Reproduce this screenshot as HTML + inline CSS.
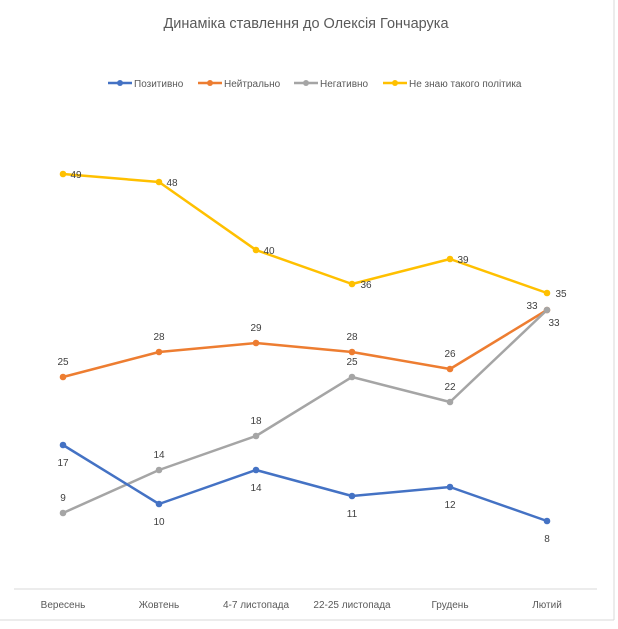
<!DOCTYPE html>
<html><head><meta charset="utf-8"><style>
body{margin:0;background:#fff;}
svg{display:block;font-family:"Liberation Sans","DejaVu Sans",sans-serif;}
</style></head><body>
<svg width="618" height="629" viewBox="0 0 618 629">
<rect x="0" y="0" width="618" height="629" fill="#fff"/>
<line x1="614" y1="0" x2="614" y2="620" stroke="#d9d9d9"/>
<line x1="0" y1="620" x2="614" y2="620" stroke="#d9d9d9"/>
<text x="306" y="28" text-anchor="middle" font-size="14.5" fill="#595959">Динаміка ставлення до Олексія  Гончарука</text>
<g font-size="10" fill="#595959">
<line x1="108" y1="83" x2="132" y2="83" stroke="#4472c4" stroke-width="2.5"/><circle cx="120" cy="83" r="3" fill="#4472c4"/><text x="134" y="87">Позитивно</text>
<line x1="198" y1="83" x2="222" y2="83" stroke="#ed7d31" stroke-width="2.5"/><circle cx="210" cy="83" r="3" fill="#ed7d31"/><text x="224" y="87">Нейтрально</text>
<line x1="294" y1="83" x2="318" y2="83" stroke="#a5a5a5" stroke-width="2.5"/><circle cx="306" cy="83" r="3" fill="#a5a5a5"/><text x="320" y="87">Негативно</text>
<line x1="383" y1="83" x2="407" y2="83" stroke="#ffc000" stroke-width="2.5"/><circle cx="395" cy="83" r="3" fill="#ffc000"/><text x="409" y="87">Не знаю такого політика</text>
</g>
<line x1="14" y1="589" x2="597" y2="589" stroke="#d9d9d9"/>
<g font-size="10" fill="#595959" text-anchor="middle">
<text x="63" y="608">Вересень</text><text x="159" y="608">Жовтень</text><text x="256" y="608">4-7 листопада</text><text x="352" y="608">22-25 листопада</text><text x="450" y="608">Грудень</text><text x="547" y="608">Лютий</text>
</g>
<g fill="none" stroke-width="2.5" stroke-linejoin="round">
<polyline stroke="#ffc000" points="63,174 159,182 256,250 352,284 450,259 547,293"/>
<polyline stroke="#ed7d31" points="63,377 159,352 256,343 352,352 450,369 547,310"/>
<polyline stroke="#a5a5a5" points="63,513 159,470 256,436 352,377 450,402 547,310"/>
<polyline stroke="#4472c4" points="63,445 159,504 256,470 352,496 450,487 547,521"/>
</g>
<g fill="#ffc000"><circle cx="63" cy="174" r="3.3"/><circle cx="159" cy="182" r="3.3"/><circle cx="256" cy="250" r="3.3"/><circle cx="352" cy="284" r="3.3"/><circle cx="450" cy="259" r="3.3"/><circle cx="547" cy="293" r="3.3"/></g>
<g fill="#ed7d31"><circle cx="63" cy="377" r="3.3"/><circle cx="159" cy="352" r="3.3"/><circle cx="256" cy="343" r="3.3"/><circle cx="352" cy="352" r="3.3"/><circle cx="450" cy="369" r="3.3"/><circle cx="547" cy="310" r="3.3"/></g>
<g fill="#a5a5a5"><circle cx="63" cy="513" r="3.3"/><circle cx="159" cy="470" r="3.3"/><circle cx="256" cy="436" r="3.3"/><circle cx="352" cy="377" r="3.3"/><circle cx="450" cy="402" r="3.3"/><circle cx="547" cy="310" r="3.3"/></g>
<g fill="#4472c4"><circle cx="63" cy="445" r="3.3"/><circle cx="159" cy="504" r="3.3"/><circle cx="256" cy="470" r="3.3"/><circle cx="352" cy="496" r="3.3"/><circle cx="450" cy="487" r="3.3"/><circle cx="547" cy="521" r="3.3"/></g>
<g font-size="10" fill="#404040" text-anchor="middle">
<text x="76" y="178">49</text><text x="172" y="186">48</text><text x="269" y="254">40</text><text x="366" y="288">36</text><text x="463" y="263">39</text><text x="561" y="297">35</text>
<text x="63" y="365">25</text><text x="159" y="340">28</text><text x="256" y="331">29</text><text x="352" y="340">28</text><text x="450" y="357">26</text><text x="532" y="309">33</text>
<text x="63" y="501">9</text><text x="159" y="458">14</text><text x="256" y="424">18</text><text x="352" y="365">25</text><text x="450" y="390">22</text><text x="554" y="326">33</text>
<text x="63" y="466">17</text><text x="159" y="525">10</text><text x="256" y="491">14</text><text x="352" y="517">11</text><text x="450" y="508">12</text><text x="547" y="542">8</text>
</g>
</svg>
</body></html>
